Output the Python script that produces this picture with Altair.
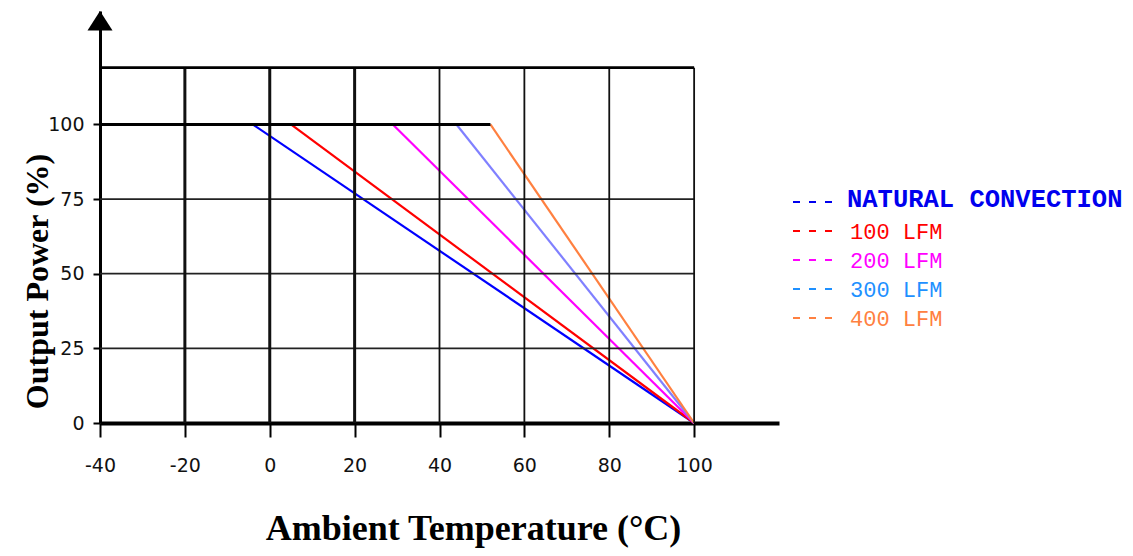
import altair as alt
import pandas as pd

# ---- data ----
series = ["NATURAL CONVECTION", "100 LFM", "200 LFM", "300 LFM", "400 LFM"]
full_power_until = [-4, 5, 29, 44, 52]      # °C where derating starts (100 %)
zero_power_at = [100, 100, 100, 100, 100]   # °C where output reaches 0 %
line_colors = ["#0000FF", "#FF0000", "#FF00FF", "#8080FF", "#FF8040"]
label_colors = ["#0000EE", "#FF0000", "#FF00FF", "#1E90FF", "#FF8040"]

x_ticks = [-40, -20, 0, 20, 40, 60, 80, 100]
y_ticks = [0, 25, 50, 75, 100]
x_grid = [-20, 0, 20, 40, 60, 80, 100]
y_grid = [25, 50, 75]

X_MIN, X_MAX = -40, 120
Y_MAX = 138
FRAME_TOP = 119
FRAME_RIGHT = 100

# ---- tables ----
rows = []
for s, a, b in zip(series, full_power_until, zero_power_at):
    rows.append({"series": s, "temp": a, "power": 100})
    rows.append({"series": s, "temp": b, "power": 0})
lines_df = pd.DataFrame(rows)

vgrid_df = pd.DataFrame({"temp": x_grid, "power": [0] * len(x_grid), "power2": [FRAME_TOP] * len(x_grid)})
hgrid_df = pd.DataFrame({"power": y_grid, "temp": [X_MIN] * len(y_grid), "temp2": [FRAME_RIGHT] * len(y_grid)})
plateau_df = pd.DataFrame({"power": [100], "temp": [X_MIN], "temp2": [max(full_power_until)]})
frame_df = pd.DataFrame({"power": [FRAME_TOP], "temp": [X_MIN], "temp2": [FRAME_RIGHT]})
arrow_df = pd.DataFrame({"temp": [X_MIN], "power": [Y_MAX]})
legend_df = pd.DataFrame({"series": series, "label_color": label_colors, "i": list(range(len(series)))})

x_scale = alt.Scale(domain=[X_MIN, X_MAX], nice=False, zero=False)
y_scale = alt.Scale(domain=[0, Y_MAX], nice=False, zero=False)

x_axis = alt.Axis(
    values=x_ticks, title="Ambient Temperature (°C)",
    labelExpr="datum.value < 0 ? '-' + abs(datum.value) : '' + datum.value",
    titleFont="Liberation Serif", titleFontSize=36, titleFontWeight="bold", titleColor="black",
    titleX=373, titleY=116, titleAlign="center", titleBaseline="alphabetic",
    labelFont="DejaVu Sans", labelFontSize=19, labelColor="#111", labelPadding=19,
    labelFlush=False, labelOverlap=False,
    tickSize=14, tickWidth=2, tickColor="black",
    domainWidth=4, domainColor="black", grid=False,
)
y_axis = alt.Axis(
    values=y_ticks, title="Output Power (%)",
    titleFont="Liberation Serif", titleFontSize=32, titleFontWeight="bold", titleColor="black",
    titleAngle=270, titleX=-53, titleY=270, titleAlign="center", titleBaseline="alphabetic",
    labelFont="DejaVu Sans", labelFontSize=19, labelColor="#111", labelPadding=9,
    labelFlush=False, labelOverlap=False,
    tickSize=7, tickWidth=2, tickColor="black",
    domainWidth=3, domainColor="black", grid=False,
)

X = alt.X("temp:Q", scale=x_scale, axis=x_axis)
Y = alt.Y("power:Q", scale=y_scale, axis=y_axis)

lines = alt.Chart(lines_df).mark_line(strokeWidth=2.2).encode(
    x=X, y=Y,
    color=alt.Color("series:N", scale=alt.Scale(domain=series, range=line_colors), legend=None),
    detail="series:N",
    order="temp:Q",
)

vgrid = alt.Chart(vgrid_df).mark_rule(color="#111").encode(
    x=X, y=Y, y2="power2:Q",
    strokeWidth=alt.condition("datum.temp <= 20", alt.value(3), alt.value(1.8)),
)
hgrid = alt.Chart(hgrid_df).mark_rule(color="#222", strokeWidth=1.7).encode(
    x=X, x2="temp2:Q", y=Y,
)
frame = alt.Chart(frame_df).mark_rule(color="black", strokeWidth=2.7).encode(
    x=X, x2="temp2:Q", y=Y,
)
plateau = alt.Chart(plateau_df).mark_rule(color="black", strokeWidth=3).encode(
    x=X, x2="temp2:Q", y=Y,
)
arrow = alt.Chart(arrow_df).mark_point(
    shape="M0,0L1,1.55L-1,1.55Z", size=625, filled=True, color="black", opacity=1
).encode(x=X, y=Y)

legend_base = alt.Chart(legend_df).transform_calculate(
    ly="datum.i == 0 ? 188 : 192 + 29 * datum.i",
    dy="datum.i == 0 ? 191 : 191 + 29 * datum.i",
)
legend_dash = legend_base.mark_rule(strokeDash=[7, 9], strokeWidth=2.2).encode(
    x=alt.value(693), x2=alt.value(735),
    y=alt.Y("dy:Q", scale=None),
    stroke=alt.Stroke("label_color:N", scale=None, legend=None),
)
legend_first = legend_base.transform_filter("datum.i == 0").mark_text(
    align="left", baseline="middle", font="Liberation Mono", fontSize=25.5, fontWeight="bold"
).encode(
    x=alt.value(747), y=alt.Y("ly:Q", scale=None), text="series:N",
    fill=alt.Fill("label_color:N", scale=None, legend=None),
)
legend_rest = legend_base.transform_filter("datum.i > 0").mark_text(
    align="left", baseline="middle", font="Liberation Mono", fontSize=22
).encode(
    x=alt.value(750), y=alt.Y("ly:Q", scale=None), text="series:N",
    fill=alt.Fill("label_color:N", scale=None, legend=None),
)

chart = alt.layer(
    lines, hgrid, vgrid, frame, plateau, arrow, legend_dash, legend_first, legend_rest
).properties(
    width=679, height=412,
    padding={"left": 92, "top": 3, "right": 345, "bottom": 125},
    autosize=alt.AutoSizeParams(type="none"),
).configure(background="white").configure_view(stroke=None)

chart.save("out.html", embed_options={"renderer": "svg", "actions": False})
